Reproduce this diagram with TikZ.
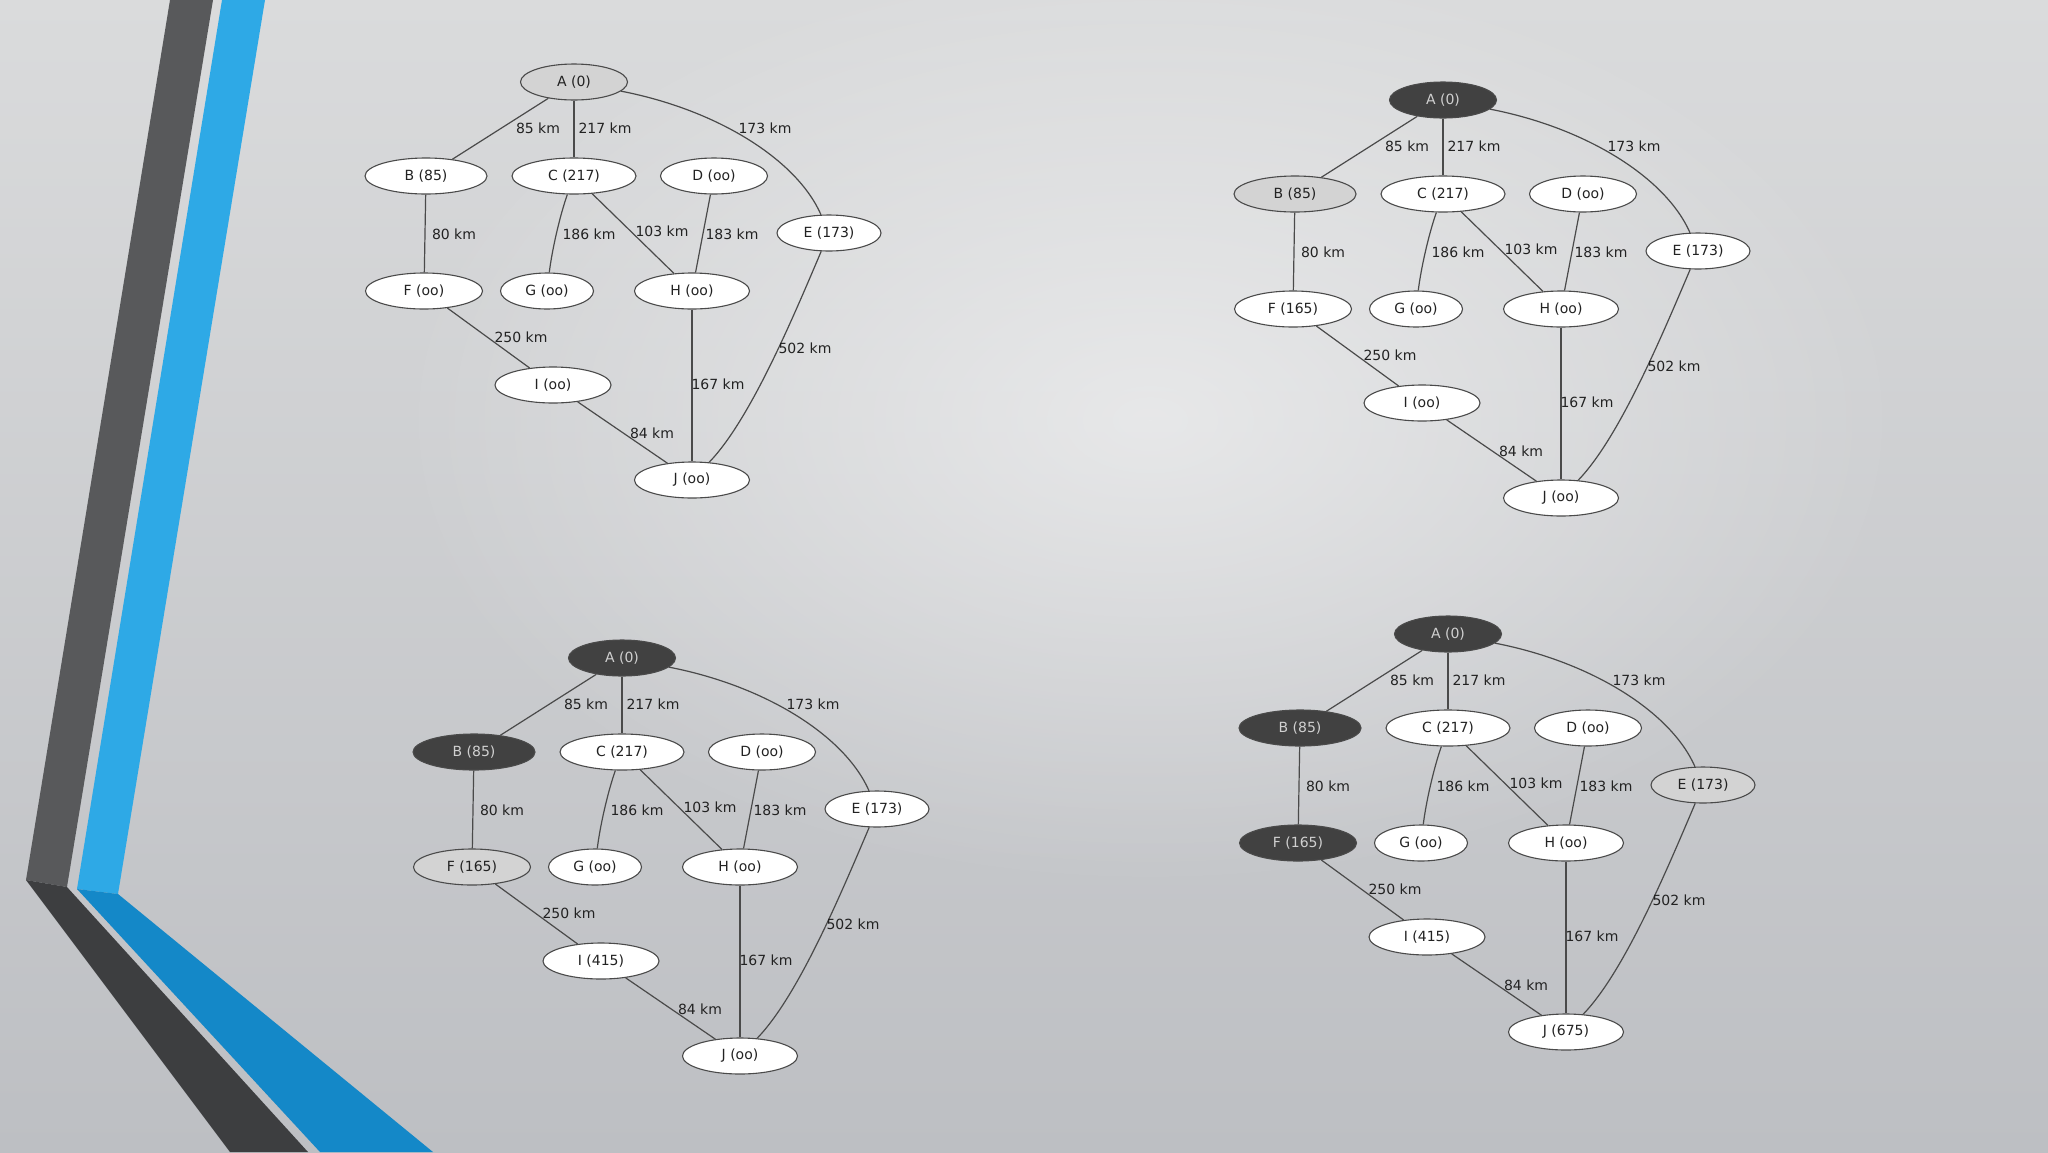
\documentclass[tikz,border=0pt]{standalone}
\usepackage{fontspec}
\setmainfont{DejaVu Sans}
\usetikzlibrary{shapes.geometric,fadings}
\tikzfading[name=glow,inner color=transparent!0,outer color=transparent!100]

\begin{document}
\begin{tikzpicture}[x=1pt,y=-1pt]
  \definecolor{bgtop}{HTML}{DADBDC}
  \definecolor{bgmid}{HTML}{E4E5E6}
  \definecolor{bgbot}{HTML}{BDBFC3}
  \definecolor{stripeo}{HTML}{58595B}
  \definecolor{stripei}{HTML}{3D3E40}
  \definecolor{blueo}{HTML}{2EA9E6}
  \definecolor{bluei}{HTML}{1488C8}
  \definecolor{edgegray}{HTML}{4A4A4A}
  \definecolor{txtgray}{HTML}{222222}
  \definecolor{seengray}{HTML}{D3D3D3}
  \definecolor{donegray}{HTML}{414141}
  \definecolor{donetext}{HTML}{D0D0D0}
  \tikzset{
    vtx/.style={ellipse,draw=edgegray,line width=1.1pt,fill=white,inner sep=0pt,
      minimum height=36,text=txtgray,font=\fontsize{14}{16}\selectfont},
    seen/.style={vtx,fill=seengray},
    done/.style={vtx,fill=donegray,text=donetext},
    km/.style={inner sep=0pt,text=txtgray,font=\fontsize{14}{16}\selectfont},
    road/.style={draw=edgegray,line width=1.2pt}
  }
  % one step of the search: prefix, shift, fills of A B E F, labels of F I J
  \newcommand\dijkstrastep[9]{%
    \begin{scope}[shift={#2}]
      \node [#3,minimum width=107] (#1A) at (574,82) {A (0)};
      \node [#4,minimum width=122] (#1B) at (426,176) {B (85)};
      \node [vtx,minimum width=124] (#1C) at (574,176) {C (217)};
      \node [vtx,minimum width=107] (#1D) at (714,176) {D (oo)};
      \node [#5,minimum width=104] (#1E) at (829,233) {E (173)};
      \node [#6,minimum width=117] (#1F) at (424,291) {F (#7)};
      \node [vtx,minimum width=93] (#1G) at (547,291) {G (oo)};
      \node [vtx,minimum width=115] (#1H) at (692,291) {H (oo)};
      \node [vtx,minimum width=116] (#1I) at (553,385) {I (#8)};
      \node [vtx,minimum width=115] (#1J) at (692,480) {J (#9)};
      \draw [road] (#1A) -- (#1B);
      \draw [road] (#1A) -- (#1C);
      \draw [road] (#1A) .. controls (718,110) and (797,160) .. (#1E);
      \draw [road] (#1B) -- (#1F);
      \draw [road] (#1C) .. controls (560,215) and (552,250) .. (#1G);
      \draw [road] (#1C) -- (#1H);
      \draw [road] (#1D) -- (#1H);
      \draw [road] (#1E) .. controls (792,320) and (750,420) .. (#1J);
      \draw [road] (#1F) -- (#1I);
      \draw [road] (#1H) -- (#1J);
      \draw [road] (#1I) -- (#1J);
      \node [km] (#1kAB) at (538,128) {85 km};
      \node [km] (#1kAC) at (605,128) {217 km};
      \node [km] (#1kAE) at (765,128) {173 km};
      \node [km] (#1kBF) at (454,234) {80 km};
      \node [km] (#1kCG) at (589,234) {186 km};
      \node [km] (#1kCH) at (662,231) {103 km};
      \node [km] (#1kDH) at (732,234) {183 km};
      \node [km] (#1kFI) at (521,337) {250 km};
      \node [km] (#1kEJ) at (805,348) {502 km};
      \node [km] (#1kHJ) at (718,384) {167 km};
      \node [km] (#1kIJ) at (652,433) {84 km};
    \end{scope}}

  % slide background
  \useasboundingbox (0,0) rectangle (2048,1152);
  \shade [top color=bgtop,middle color=bgmid,bottom color=bgbot] (0,0) rectangle (2048,1152);
  \begin{scope}
    \clip (0,0) rectangle (2048,1152);
    \fill [white,fill opacity=0.5,path fading=glow] (1150,420) ellipse (760 and 470);
  \end{scope}

  % left stripes
  \fill [stripeo] (170,0) -- (213,0) -- (67,887) -- (26,880) -- cycle;
  \fill [stripei] (26,880) -- (67,887) -- (308,1152) -- (230,1152) -- cycle;
  \fill [blueo] (222,0) -- (265,0) -- (118,894) -- (77,889) -- cycle;
  \fill [bluei] (77,889) -- (118,894) -- (433,1152) -- (320,1152) -- cycle;

  % the four steps
  \dijkstrastep{p}{(0,0)}{seen}{vtx}{vtx}{vtx}{oo}{oo}{oo}
  \dijkstrastep{q}{(869,18)}{done}{seen}{vtx}{vtx}{165}{oo}{oo}
  \dijkstrastep{r}{(48,576)}{done}{done}{vtx}{seen}{165}{415}{oo}
  \dijkstrastep{s}{(874,552)}{done}{done}{seen}{done}{165}{415}{675}
\end{tikzpicture}
\end{document}
